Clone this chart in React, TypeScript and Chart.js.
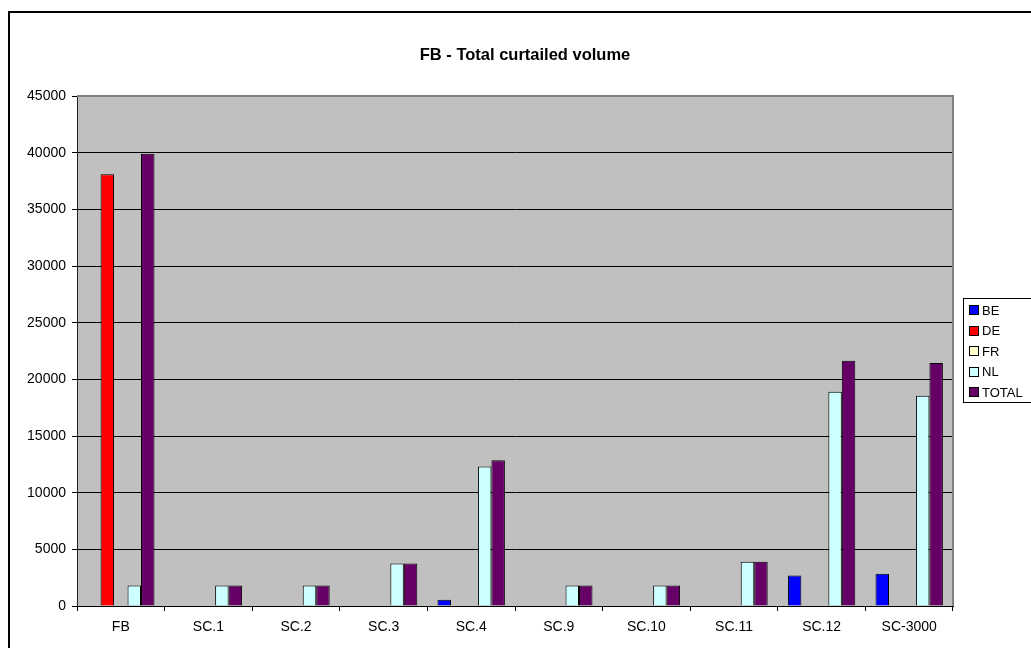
import React, { useEffect, useRef } from "react";
import { Chart, registerables } from "chart.js";

Chart.register(...registerables);

const TITLE = "FB - Total curtailed volume";
const categories = ["FB", "SC.1", "SC.2", "SC.3", "SC.4", "SC.9", "SC.10", "SC.11", "SC.12", "SC-3000"];
const seriesNames = ["BE", "DE", "FR", "NL", "TOTAL"];
const seriesColors = ["#0000FF", "#FF0000", "#FFFFCC", "#CCFFFF", "#660066"];
const BE = [0, 0, 0, 0, 550, 0, 0, 0, 2700, 2850];
const DE = [38100, 0, 0, 0, 0, 0, 0, 0, 0, 0];
const FR = [0, 0, 0, 0, 0, 0, 0, 0, 0, 0];
const NL = [1800, 1800, 1800, 3750, 12300, 1800, 1800, 3900, 18900, 18550];
const TOTAL = [39900, 1800, 1800, 3750, 12850, 1800, 1800, 3900, 21650, 21450];
const yMin = 0;
const yMax = 45000;
const yStep = 5000;

const FONT = "Arial, 'Liberation Sans', sans-serif";

export default function App() {
  const ref = useRef<HTMLCanvasElement | null>(null);

  useEffect(() => {
    document.body.style.margin = "0";
    const canvas = ref.current;
    if (!canvas) return;
    const allSeries = [BE, DE, FR, NL, TOTAL];

    const bgPlugin = {
      id: "bgPlugin",
      beforeDraw(chart: any) {
        const { ctx, chartArea } = chart;
        ctx.save();
        ctx.fillStyle = "#FFFFFF";
        ctx.fillRect(0, 0, chart.width, chart.height);
        ctx.fillStyle = "#C0C0C0";
        ctx.fillRect(chartArea.left, chartArea.top, chartArea.right - chartArea.left, chartArea.bottom - chartArea.top);
        ctx.restore();
      },
      afterDraw(chart: any) {
        const { ctx, chartArea } = chart;
        ctx.save();
        // plot area border (top/right)
        ctx.strokeStyle = "#808080";
        ctx.lineWidth = 2;
        ctx.beginPath();
        ctx.moveTo(chartArea.left, chartArea.top);
        ctx.lineTo(chartArea.right, chartArea.top);
        ctx.lineTo(chartArea.right, chartArea.bottom);
        ctx.stroke();
        // outer border
        ctx.strokeStyle = "#000000";
        ctx.lineWidth = 2;
        ctx.strokeRect(9, 12, 1040, 660);
        // title
        ctx.fillStyle = "#000000";
        ctx.font = `bold 16.5px ${FONT}`;
        ctx.textAlign = "center";
        ctx.textBaseline = "alphabetic";
        ctx.fillText(TITLE, 525, 60);
        // legend
        ctx.lineWidth = 1;
        ctx.strokeStyle = "#000000";
        ctx.strokeRect(963.5, 298.5, 100, 104);
        ctx.font = `13px ${FONT}`;
        ctx.textAlign = "left";
        seriesNames.forEach((name, i) => {
          const cy = 310 + i * 20.5;
          ctx.fillStyle = seriesColors[i];
          ctx.fillRect(969.5, Math.round(cy) - 4.5, 9, 9);
          ctx.strokeRect(969.5, Math.round(cy) - 4.5, 9, 9);
          ctx.fillStyle = "#000000";
          ctx.fillText(name, 982, cy + 4.7);
        });
        ctx.restore();
      },
    };

    const chart = new Chart(canvas, {
      type: "bar",
      data: {
        labels: categories,
        datasets: seriesNames.map((name, i) => ({
          label: name,
          data: allSeries[i].map((v) => (v === 0 ? null : v)),
          backgroundColor: seriesColors[i],
          borderColor: "#000000",
          borderWidth: 1,
          categoryPercentage: 5 / 6.5,
          barPercentage: 1,
        })),
      },
      options: {
        responsive: false,
        animation: false,
        devicePixelRatio: 1,
        layout: { padding: { top: 96, right: 78, left: 0, bottom: 0 } },
        plugins: {
          legend: { display: false },
          title: { display: false },
          tooltip: { enabled: false },
        },
        scales: {
          x: {
            offset: true,
            grid: {
              offset: true,
              drawOnChartArea: false,
              drawTicks: true,
              tickLength: 5,
              color: "#000000",
            },
            border: { display: true, color: "#000000", width: 1 },
            ticks: {
              color: "#000000",
              font: { family: FONT, size: 14 },
              padding: 8,
              maxRotation: 0,
              autoSkip: false,
            },
            afterFit(scale: any) {
              scale.height = 42;
            },
          },
          y: {
            min: yMin,
            max: yMax,
            grid: {
              color: "#000000",
              lineWidth: 1,
              drawTicks: true,
              tickLength: 5,
            },
            border: { display: true, color: "#202020", width: 1 },
            ticks: {
              stepSize: yStep,
              color: "#000000",
              font: { family: FONT, size: 14 },
              padding: 6,
              callback: (v: any) => String(v),
            },
            afterFit(scale: any) {
              scale.width = 77;
            },
          },
        },
      },
      plugins: [bgPlugin],
    });

    return () => chart.destroy();
  }, []);

  return (
    <div style={{ width: 1031, height: 648 }}>
      <canvas ref={ref} width={1031} height={648} style={{ display: "block", width: 1031, height: 648 }} />
    </div>
  );
}
